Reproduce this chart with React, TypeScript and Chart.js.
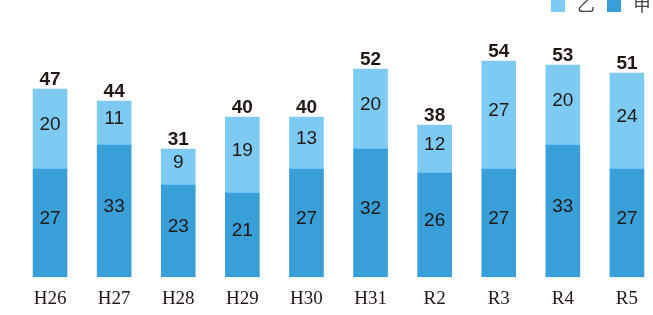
import React, { useEffect, useRef } from "react";
import { Chart, registerables } from "chart.js";

Chart.register(...registerables);

const categories = ["H26", "H27", "H28", "H29", "H30", "H31", "R2", "R3", "R4", "R5"];
const kouValues = [27, 33, 23, 21, 27, 32, 26, 27, 33, 27]; // 甲
const otsuValues = [20, 11, 9, 19, 13, 20, 12, 27, 20, 24]; // 乙
const totalValues = [47, 44, 31, 40, 40, 52, 38, 54, 53, 51];
const seriesNames = ["甲", "乙"];

const DARK = "#399fd9";
const LIGHT = "#7dcbf3";
const TEXT = "#231815";

const labelPlugin = {
  id: "valueLabels",
  afterDatasetsDraw(chart: any) {
    const ctx = chart.ctx;
    ctx.save();
    ctx.textAlign = "center";
    ctx.textBaseline = "middle";
    ctx.fillStyle = TEXT;
    ctx.font = "19px 'Liberation Sans', Arial, sans-serif";
    chart.data.datasets.forEach((ds: any, i: number) => {
      const meta = chart.getDatasetMeta(i);
      meta.data.forEach((el: any, j: number) => {
        const cy = (el.y + el.base) / 2 - 4;
        ctx.fillText(String(ds.data[j]), el.x, cy);
      });
    });
    ctx.font = "bold 19px 'Liberation Sans', Arial, sans-serif";
    const topMeta = chart.getDatasetMeta(chart.data.datasets.length - 1);
    topMeta.data.forEach((el: any, j: number) => {
      ctx.fillText(String(totalValues[j]), el.x, el.y - 9);
    });
    // legend
    ctx.font = "18px 'Noto Sans CJK JP', sans-serif";
    ctx.textAlign = "left";
    const items = [
      { name: seriesNames[1], color: LIGHT, x: 551 },
      { name: seriesNames[0], color: DARK, x: 607 },
    ];
    items.forEach((it) => {
      ctx.fillStyle = it.color;
      ctx.fillRect(it.x, -2, 14, 14);
      ctx.fillStyle = "#444";
      ctx.fillText(it.name, it.x + 26, 4);
    });
    ctx.restore();
  },
};

export default function App() {
  const ref = useRef<HTMLCanvasElement>(null);
  useEffect(() => {
    if (!ref.current) return;
    const chart = new Chart(ref.current, {
      type: "bar",
      data: {
        labels: categories,
        datasets: [
          { label: seriesNames[0], data: kouValues, backgroundColor: DARK, barThickness: 34 },
          { label: seriesNames[1], data: otsuValues, backgroundColor: LIGHT, barThickness: 34 },
        ],
      },
      options: {
        responsive: false,
        animation: false,
        devicePixelRatio: 1,
        layout: { padding: { top: 37, left: 18, right: 11, bottom: 0 } },
        plugins: { legend: { display: false }, tooltip: { enabled: false } },
        scales: {
          x: {
            stacked: true,
            grid: { display: false, drawTicks: false },
            border: { display: false },
            ticks: {
              color: TEXT,
              padding: 10,
              font: { family: "'Liberation Serif', 'Times New Roman', serif", size: 19 },
            },
          },
          y: { stacked: true, display: false, min: 0, max: 60 },
        },
      },
      plugins: [labelPlugin],
    });
    return () => chart.destroy();
  }, []);
  return (
    <div style={{ position: "fixed", left: 0, top: 0, width: 653, height: 315, overflow: "hidden", background: "#fff" }}>
      <canvas ref={ref} width={670} height={320} style={{ display: "block" }} />
    </div>
  );
}
